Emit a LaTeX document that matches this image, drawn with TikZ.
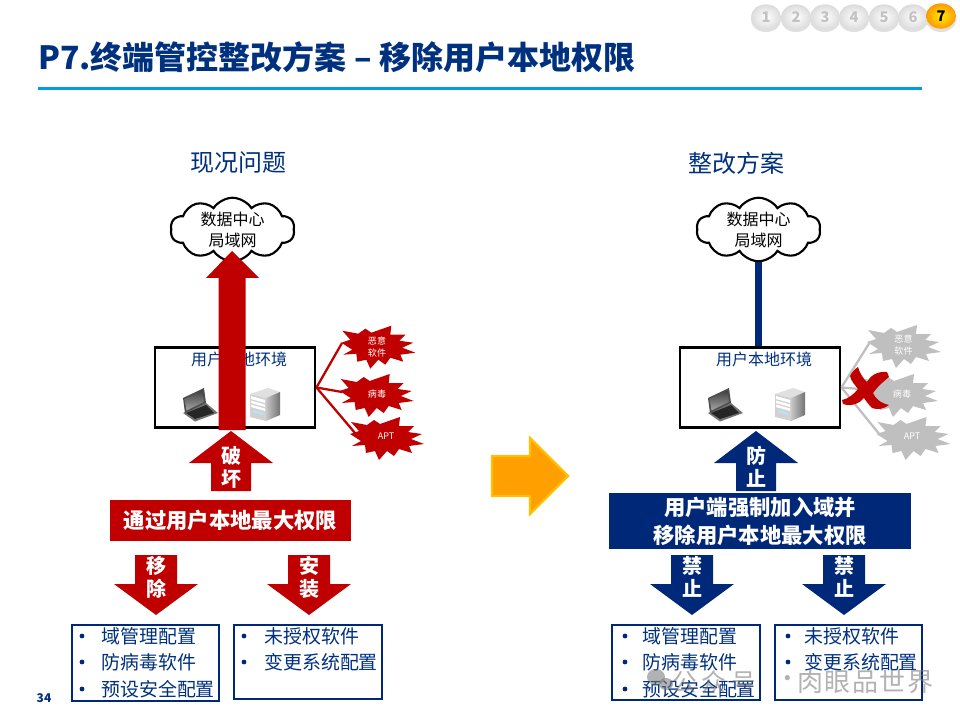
\documentclass[tikz,border=0pt]{standalone}
\usepackage{fontspec}
\setmainfont{Noto Sans CJK SC}
\newfontfamily\wmfont[LetterSpace=6]{Noto Sans CJK SC}
\newfontfamily\wmwide[LetterSpace=20]{Noto Sans CJK SC}
\usetikzlibrary{shapes.symbols,shapes.geometric}
\definecolor{navy}{HTML}{002878}
\definecolor{titleblue}{HTML}{00317F}
\definecolor{barblue}{HTML}{009FDA}
\definecolor{redd}{HTML}{C00000}
\definecolor{burstgrey}{HTML}{BFBFBF}
\definecolor{arrowfill}{HTML}{FF9F00}
\definecolor{arrowedge}{HTML}{FFC000}
\newcommand{\fsz}[1]{\fontsize{#1}{#1}\selectfont}
\tikzset{
 heading/.style={text=titleblue,font=\fsz{18},inner sep=0pt},
 cloudbox/.style={cloud,cloud puffs=10,cloud puff arc=115,cloud ignores aspect,draw=black,line width=1.6pt,fill=white,
   minimum width=93pt,minimum height=43pt,inner sep=0pt,align=center,font=\fontsize{12}{15.8}\selectfont},
 envbox/.style={draw=black,line width=2.2pt,fill=white,minimum width=120pt,minimum height=60.5pt,inner sep=0pt},
 envtext/.style={text=titleblue,font=\fsz{12},inner sep=0pt},
 arrowtext/.style={text=white,font=\fontsize{15}{17.2}\selectfont\bfseries,align=center,inner sep=0pt},
 banner/.style={text=white,font=\fontsize{16}{21}\selectfont\bfseries,align=center,inner sep=0pt},
 bursttext/.style={inner sep=0pt,text=white,align=center,font=\fontsize{6.8}{8.6}\selectfont},
 listbox/.style={draw=navy,line width=0.9pt,fill=white,inner sep=0pt},
 item/.style={text=titleblue,font=\fsz{14.2},anchor=west,inner sep=0pt},
 dotitem/.style={circle,fill=navy,minimum size=3.6pt,inner sep=0pt},
 ball/.style={ellipse,minimum width=22.5pt,minimum height=19pt,inner sep=0pt,font=\fsz{11}\bfseries},
 wmark/.style={anchor=west,inner sep=0pt,text=black!55,opacity=.55},
}
\newcommand{\uparr}[2]{\fill[#2] (#1,431) -- (#1+42,463) -- (#1+20,463) -- (#1+20,491) -- (#1-20,491) -- (#1-20,463) -- (#1-42,463) -- cycle;}
\newcommand{\dnarr}[2]{\fill[#2] (#1-21,555) -- (#1+21,555) -- (#1+21,584) -- (#1+42,584) -- (#1,615) -- (#1-42,584) -- (#1-21,584) -- cycle;}
\newcommand{\burstshape}[3]{\fill[#3,shift={(#1,#2)}] (-36,-16) -- (-20,-13) -- (-13,-18) -- (-7,-14) -- (13,-21) -- (12,-12) -- (27,-12) -- (21,-6) -- (35,-4) -- (24,1) -- (37,6) -- (22,8) -- (25,15) -- (12,11) -- (7,18) -- (0,13) -- (-8,22) -- (-12,13) -- (-21,15) -- (-22,7) -- (-35,8) -- (-26,3) -- (-37,-4) -- (-28,-7) -- cycle;}
\newcommand{\laptopicon}[2]{\begin{scope}[shift={(#1,#2)}]
 \fill[black!55] (1,25) -- (24,15) -- (36,25) -- (13,33.5) -- cycle;
 \fill[black!70] (1,10) -- (22,0) -- (24,15) -- (3,25) -- cycle;
 \shade[top color=black!75,bottom color=black!35] (2.5,11) -- (20.5,2.5) -- (22,14) -- (4.5,22.5) -- cycle;
 \fill[black!85] (4,25) -- (24,17) -- (32,25) -- (13,31) -- cycle;
\end{scope}}
\newcommand{\servericon}[2]{\begin{scope}[shift={(#1,#2)}]
 \fill[black!12] (0,6) -- (18,0) -- (30,4) -- (16,10) -- cycle;
 \shade[left color=black!22,right color=black!55] (16,10) -- (30,4) -- (30,27) -- (16,33) -- cycle;
 \fill[black!18] (0,6) -- (16,10) -- (16,33) -- (0,29) -- cycle;
 \fill[white] (1,8) -- (15,12) -- (15,15) -- (1,11) -- cycle;
 \fill[white] (1,12.5) -- (15,16.5) -- (15,19) -- (1,15) -- cycle;
 \fill[white] (1,16.5) -- (15,20.5) -- (15,23) -- (1,19) -- cycle;
 \fill[cyan!30] (3,22) -- (13,25) -- (13,27) -- (3,24) -- cycle;
\end{scope}}
\begin{document}
\begin{tikzpicture}[x=0.75pt,y=-0.75pt]
\useasboundingbox (0,0) rectangle (960,720);
\fill[white] (0,0) rectangle (960,720);
% page tabs
\foreach \n/\cx in {1/766,2/796,3/825,4/854,5/884,6/913}{
  \fill[black!12] (\cx,20) ellipse (15 and 12);
  \node[ball,shading=radial,inner color=white,outer color=black!14,text=black!24] (tab\n) at (\cx,17) {\n};
}
\fill[black!12] (941,20) ellipse (15 and 12);
\node[ball,shading=radial,inner color=yellow!85!orange,outer color=orange!80!yellow,text=black] (tab7) at (941,16) {7};
% title
\node[anchor=west,inner sep=0pt,text=titleblue,font=\fsz{24}\bfseries] (title) at (38,57) {P7.终端管控整改方案 – 移除用户本地权限};
\coordinate (barL) at (38,88.5);
\coordinate (barR) at (922,88.5);
\draw[barblue,line width=2.4pt] (barL) -- (barR);
\node[text=titleblue,font=\fsz{9}\bfseries,inner sep=0pt] (pageno) at (44,698) {34};
% headings
\node[heading] (headL) at (238,163) {现况问题};
\node[heading] (headR) at (736,163) {整改方案};
% clouds
\node[cloudbox] (cloudL) at (232.5,229.5) {数据中心\\局域网};
\node[cloudbox] (cloudR) at (758.5,229.5) {数据中心\\局域网};
% left environment
\node[envbox] (envL) at (235,387.5) {};
\node[envtext] (envLt) at (239,359) {用户本地环境};
\laptopicon{182}{388}
\servericon{250}{388}
% right environment link and box
\node[envbox] (envR) at (760,387.5) {};
\draw[navy,line width=4.6pt] (cloudR.south) -- (envR.north -| cloudR.south);
\node[envtext] (envRt) at (764,359) {用户本地环境};
\laptopicon{707}{388}
\servericon{775}{388}
% big red arrow
\fill[redd] (232,251) -- (259,278) -- (245.5,278) -- (245.5,430) -- (218.5,430) -- (218.5,278) -- (206,278) -- cycle;
% left bursts
\coordinate (e1) at (342,343);
\coordinate (e2) at (342,392);
\coordinate (e3) at (355,433);
\foreach \t in {e1,e2,e3} \draw[redd,line width=1.7pt] (envL.east) -- (\t);
\burstshape{378.3}{346.7}{redd}
\burstshape{376.7}{395}{redd}
\burstshape{387}{438}{redd}
\node[bursttext] (b1) at (377,347) {恶意\\软件};
\node[bursttext] (b2) at (377,394) {病毒};
\node[bursttext] (b3) at (386,436.5) {APT};
% right bursts
\coordinate (f1) at (870,342);
\coordinate (f2) at (872,390);
\coordinate (f3) at (880,435);
\foreach \t in {f1,f2,f3} \draw[burstgrey,line width=1.7pt] (envR.east) -- (\t);
\burstshape{904}{346}{burstgrey}
\burstshape{901}{395}{burstgrey}
\burstshape{913.5}{438}{burstgrey}
\node[bursttext] (g1) at (903.5,345) {恶意\\软件};
\node[bursttext] (g2) at (902,394) {病毒};
\node[bursttext] (g3) at (912,436.5) {APT};
% red cross
\fill[redd] (850,376) .. controls (852,372) and (855,369) .. (858,367)
 .. controls (860,374) and (863,378) .. (867,382)
 .. controls (870,376) and (877,371) .. (887,372)
 -- (889,377) .. controls (884,381) and (878,386) .. (873,393)
 .. controls (875,398) and (880,403) .. (889,405)
 .. controls (884,409) and (877,410) .. (872,408)
 .. controls (869,405) and (866,401) .. (864,398)
 .. controls (860,403) and (852,407) .. (843,404)
 -- (842,400) .. controls (848,399) and (854,394) .. (858,389)
 .. controls (855,385) and (851,381) .. (850,376) -- cycle;
% up arrows
\uparr{231}{redd}
\node[arrowtext] (upL) at (231,467) {破\\坏};
\uparr{756}{navy}
\node[arrowtext] (upR) at (756,467) {防\\止};
% centre arrow
\filldraw[fill=arrowfill,draw=arrowedge,line width=1.8pt,line join=miter]
 (492,456) -- (530,456) -- (530,438) -- (568,476) -- (530,514) -- (530,496) -- (492,496) -- cycle;
% banners
\node[fill=redd,minimum width=180.75pt,minimum height=30.75pt,banner] (banL) at (230.5,520.5) {通过用户本地最大权限};
\node[fill=navy,minimum width=226.5pt,minimum height=42pt,banner] (banR) at (760,521) {用户端强制加入域并\\移除用户本地最大权限};
% down arrows
\dnarr{156}{redd}
\node[arrowtext] (d1) at (156,577) {移\\除};
\dnarr{309}{redd}
\node[arrowtext] (d2) at (309,577) {安\\装};
\dnarr{692}{navy}
\node[arrowtext] (d3) at (692,577) {禁\\止};
\dnarr{844}{navy}
\node[arrowtext] (d4) at (844,577) {禁\\止};
% list boxes
\node[listbox,minimum width=110.25pt,minimum height=57pt] (l1) at (145.5,663) {};
\node[listbox,minimum width=111pt,minimum height=55.5pt] (l2) at (308,662) {};
\node[listbox,minimum width=111pt,minimum height=56.25pt] (l3) at (686,662.5) {};
\node[listbox,minimum width=110.25pt,minimum height=56.25pt] (l4) at (848.5,662.5) {};
\foreach \bx/\tx/\y/\s/\nm in {82/101/636/域管理配置/a1,82/101/662/防病毒软件/a2,82/101/689/预设安全配置/a3,
  244/264/636/未授权软件/a4,244/264/662/变更系统配置/a5,
  625/642/636/域管理配置/a6,625/642/662/防病毒软件/a7,625/642/689/预设安全配置/a8,
  788/804/636/未授权软件/a9,788/804/662/变更系统配置/a10}{
  \node[dotitem] (dot\nm) at (\bx,\y) {};
  \node[item] (it\nm) at (\tx,\y) {\s};
}
% watermark
\fill[black!55,opacity=.55] (656,677) ellipse (9 and 8);
\fill[black!55,opacity=.55] (666,684) ellipse (7 and 6);
\node[wmark,font=\fsz{18.5}\wmwide] (wma) at (672,682) {公众号};
\node[wmark,font=\fsz{18.5}\wmfont] (wmb) at (775,682) {·};
\node[wmark,font=\fsz{19.5}\wmfont] (wmc) at (797,682) {肉眼品世界};
\end{tikzpicture}
\end{document}
